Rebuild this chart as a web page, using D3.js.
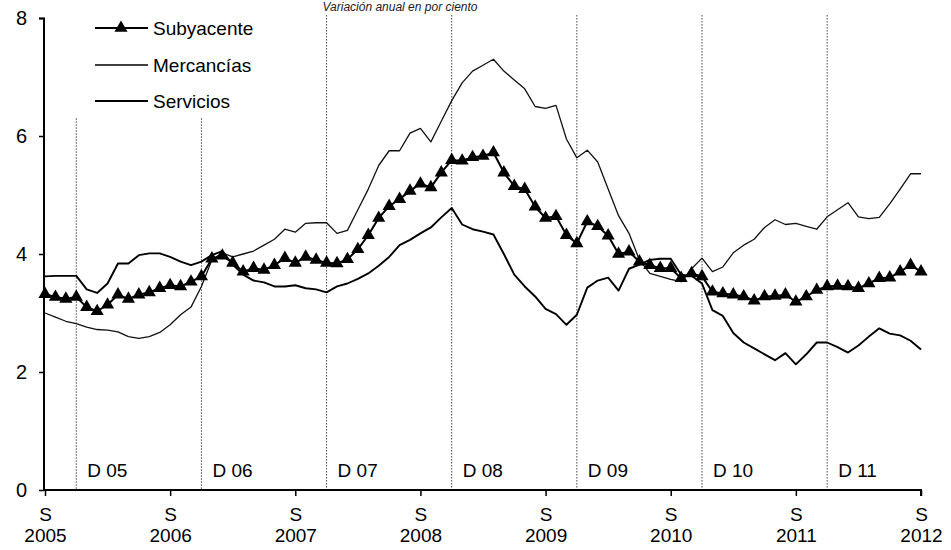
<!DOCTYPE html>
<html><head><meta charset="utf-8">
<script src="https://cdn.jsdelivr.net/npm/d3@7"></script>
<style>
body{margin:0;background:#fff;}
svg{display:block;font-family:"Liberation Sans",Arial,sans-serif;}
</style></head>
<body>
<svg id="chart" width="951" height="550"></svg>
<script>
// Monthly data, Sep 2005 (index 0) to Sep 2012 (index 84)
const subyacente = [3.32,3.27,3.24,3.27,3.10,3.03,3.14,3.31,3.24,3.31,3.35,3.42,3.47,3.45,3.53,3.62,3.92,3.97,3.85,3.70,3.76,3.73,3.81,3.93,3.85,3.95,3.90,3.85,3.84,3.91,4.08,4.32,4.61,4.81,4.93,5.07,5.19,5.13,5.38,5.59,5.58,5.64,5.66,5.72,5.38,5.15,5.10,4.80,4.61,4.64,4.32,4.18,4.55,4.47,4.31,4.00,4.04,3.87,3.81,3.76,3.76,3.59,3.67,3.62,3.36,3.33,3.31,3.28,3.21,3.28,3.29,3.31,3.19,3.28,3.39,3.45,3.46,3.45,3.42,3.50,3.59,3.60,3.70,3.81,3.70];
const mercancias = [3.00,2.93,2.86,2.82,2.76,2.72,2.71,2.68,2.60,2.57,2.60,2.67,2.80,2.97,3.10,3.45,3.90,4.02,3.95,4.00,4.05,4.15,4.25,4.42,4.37,4.52,4.53,4.53,4.35,4.40,4.75,5.10,5.50,5.75,5.75,6.05,6.13,5.90,6.25,6.60,6.90,7.10,7.20,7.30,7.10,6.95,6.80,6.50,6.47,6.52,5.95,5.63,5.76,5.56,5.10,4.65,4.35,3.90,3.67,3.62,3.57,3.53,3.75,3.93,3.70,3.78,4.02,4.15,4.25,4.45,4.58,4.50,4.52,4.47,4.42,4.63,4.75,4.87,4.63,4.60,4.62,4.85,5.10,5.36,5.36];
const servicios = [3.62,3.63,3.63,3.63,3.40,3.34,3.50,3.84,3.84,3.98,4.01,4.01,3.95,3.87,3.81,3.87,3.98,4.05,3.82,3.65,3.55,3.52,3.45,3.45,3.47,3.42,3.40,3.35,3.45,3.50,3.58,3.67,3.80,3.95,4.15,4.24,4.35,4.45,4.62,4.78,4.50,4.42,4.38,4.33,4.00,3.65,3.45,3.28,3.07,2.98,2.80,2.97,3.43,3.55,3.60,3.38,3.75,3.82,3.90,3.92,3.92,3.65,3.63,3.50,3.05,2.95,2.66,2.50,2.40,2.30,2.20,2.32,2.13,2.30,2.50,2.50,2.42,2.33,2.45,2.60,2.74,2.65,2.62,2.53,2.38];
const seriesNames = ["Subyacente","Mercancías","Servicios"];
const xTickMonths = [0,12,24,36,48,60,72,84];
const xTickYears = ["2005","2006","2007","2008","2009","2010","2011","2012"];
const yTicks = [0,2,4,6,8];
const decMonths = [3,15,27,39,51,63,75];
const decLabels = ["D 05","D 06","D 07","D 08","D 09","D 10","D 11"];
const decTops = [6.3,6.3,8.05,8.05,8.05,8.05,8.05];
const titleText = "Variación anual en por ciento";

const svg = d3.select("#chart");
const x = d3.scaleLinear().domain([0,84]).range([45,921]);
const y = d3.scaleLinear().domain([0,8]).range([490,18]);
const FS = 19;

// title (partly hidden at top in the original)
svg.append("text").attr("x",400).attr("y",11).attr("text-anchor","middle")
  .attr("font-size",12).attr("font-style","italic").attr("fill","#222").text(titleText);

// December dotted lines
decMonths.forEach((m,i)=>{
  svg.append("line").attr("x1",x(m)).attr("x2",x(m)).attr("y1",y(decTops[i])).attr("y2",y(0))
    .attr("stroke","#444").attr("stroke-width",1).attr("stroke-dasharray","1.5,1.5");
  svg.append("text").attr("x",x(m)+11).attr("y",477).attr("font-size",FS).attr("fill","#000").text(decLabels[i]);
});

// Y axis
const yAxis = d3.axisLeft(y).tickValues(yTicks).tickSize(5).tickFormat(d3.format("d"));
const gy = svg.append("g").attr("transform","translate(44,0)").call(yAxis);
gy.select(".domain").attr("stroke","#000").attr("stroke-width",2).attr("d","M-5,18.5H0V490");
gy.selectAll(".tick line").attr("stroke","#000").attr("stroke-width",1.5);
gy.selectAll(".tick text").attr("font-size",FS+1).attr("font-family","Liberation Sans, Arial, sans-serif").attr("fill","#000").attr("x",-17);

// X axis
const xAxis = d3.axisBottom(x).tickValues(xTickMonths).tickSize(6).tickFormat(()=>"");
const gx = svg.append("g").attr("transform","translate(0,490)").call(xAxis);
gx.select(".domain").attr("stroke","#000").attr("stroke-width",2).attr("d","M44,0H921V6");
gx.selectAll(".tick line").attr("stroke","#000").attr("stroke-width",1.5);
gx.selectAll(".tick").each(function(d,i){
  const t = d3.select(this);
  t.append("text").attr("y",31).attr("text-anchor","middle").attr("font-size",FS).attr("fill","#000").text("S");
  t.append("text").attr("y",52).attr("text-anchor","middle").attr("font-size",FS).attr("fill","#000").text(xTickYears[i]);
});

const line = d3.line().x((d,i)=>x(i)).y(d=>y(d));
svg.append("path").datum(mercancias).attr("d",line).attr("fill","none").attr("stroke","#111").attr("stroke-width",1.3).attr("stroke-linejoin","round");
svg.append("path").datum(servicios).attr("d",line).attr("fill","none").attr("stroke","#000").attr("stroke-width",1.9).attr("stroke-linejoin","round");
svg.append("path").datum(subyacente).attr("d",line).attr("fill","none").attr("stroke","#000").attr("stroke-width",2).attr("stroke-linejoin","round");
const tri = d3.symbol().type(d3.symbolTriangle).size(75);
svg.append("g").selectAll("path").data(subyacente).join("path")
  .attr("d",tri).attr("transform",(d,i)=>`translate(${x(i)},${y(d)})`).attr("fill","#000");

// Legend
const legY = [28,65,101];
const lg = svg.append("g");
[0,1,2].forEach(k=>{
  lg.append("line").attr("x1",95).attr("x2",148).attr("y1",legY[k]).attr("y2",legY[k])
    .attr("stroke","#000").attr("stroke-width",k===0?2:(k===1?1.3:1.9));
  lg.append("text").attr("x",153).attr("y",legY[k]+7).attr("font-size",FS).attr("fill","#000").text(seriesNames[k]);
});
lg.append("path").attr("d",tri).attr("transform",`translate(121,${legY[0]})`).attr("fill","#000");
</script>
</body></html>
